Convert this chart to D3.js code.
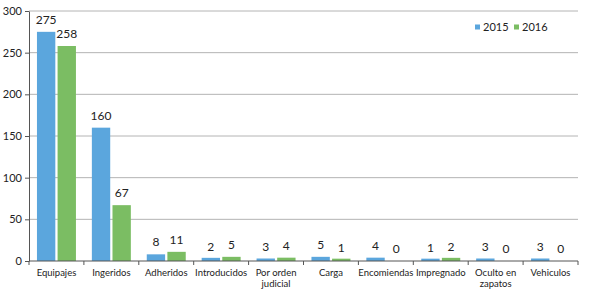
<!DOCTYPE html>
<html><head><meta charset="utf-8">
<script src="https://cdn.jsdelivr.net/npm/d3@7"></script>
<style>body{margin:0;background:#fff}svg{display:block}</style>
</head><body>
<script>
const categories = ["Equipajes","Ingeridos","Adheridos","Introducidos","Por orden|judicial","Carga","Encomiendas","Impregnado","Oculto en|zapatos","Vehiculos"];
const series = ["2015","2016"];
const values2015 = [275,160,8,2,3,5,4,1,3,3];
const values2016 = [258,67,11,5,4,1,0,2,0,0];
const yTicks = [0,50,100,150,200,250,300];
const colors = ["#5ba6dd","#7bbd63"];

const W=589,H=293;
const m={l:29,r:11,t:11,b:32};
const svg=d3.select("body").append("svg").attr("width",W).attr("height",H);
const font="Lato, 'Open Sans', sans-serif";
const x=d3.scaleBand().domain(categories).range([m.l,W-m.r]).paddingInner(0.29).paddingOuter(0.145);
const x1=d3.scaleBand().domain(series).range([0,x.bandwidth()]).paddingInner(0.11);
const y=d3.scaleLinear().domain([0,300]).range([H-m.b,m.t]);

// gridlines
svg.append("g").selectAll("line").data(yTicks.filter(d=>d>0)).join("line")
 .attr("x1",m.l).attr("x2",W-m.r).attr("y1",d=>y(d)).attr("y2",d=>y(d))
 .attr("stroke","#b4b4b4").attr("stroke-width",1);

// y axis
const ya=svg.append("g").attr("transform",`translate(${m.l},0)`)
 .call(d3.axisLeft(y).tickValues(yTicks).tickSize(4).tickSizeOuter(0));
ya.select(".domain").attr("stroke","#555");
ya.selectAll(".tick line").attr("stroke","#555");
ya.selectAll("text").attr("font-family",font).attr("font-size",11).attr("fill","#222").attr("x",-7);

// bars
const data=categories.map((c,i)=>({c,v:[values2015[i],values2016[i]]}));
const g=svg.append("g").selectAll("g").data(data).join("g").attr("transform",d=>`translate(${x(d.c)},0)`);
g.selectAll("rect").data(d=>d.v.map((v,j)=>({s:series[j],v,j}))).join("rect")
 .attr("x",d=>x1(d.s)).attr("width",x1.bandwidth())
 .attr("y",d=>y(d.v)-(d.v<3?1.5:0)).attr("height",d=>y(0)-y(d.v)+(d.v<3?1.5:0))
 .attr("fill",d=>colors[d.j]).attr("display",d=>d.v===0?"none":null);
g.selectAll("text").data(d=>d.v.map((v,j)=>({s:series[j],v,j}))).join("text")
 .attr("x",d=>x1(d.s)+x1.bandwidth()/2).attr("y",d=>y(d.v)-8)
 .attr("text-anchor","middle").attr("font-family",font).attr("font-size",12).attr("fill","#222")
 .text(d=>d.v);

// x axis
const step=(W-m.l-m.r)/categories.length;
const xa=svg.append("g");
xa.append("line").attr("x1",m.l).attr("x2",W-m.r).attr("y1",y(0)).attr("y2",y(0)).attr("stroke","#555");
xa.selectAll("line.t").data(d3.range(categories.length+1)).join("line").attr("class","t")
 .attr("x1",i=>m.l+i*step).attr("x2",i=>m.l+i*step).attr("y1",y(0)).attr("y2",y(0)+4).attr("stroke","#555");
const lab=xa.selectAll("text").data(categories).join("text")
 .attr("x",d=>x(d)+x.bandwidth()/2).attr("y",y(0)+15)
 .attr("text-anchor","middle").attr("font-family",font).attr("font-size",9.5).attr("fill","#222");
lab.each(function(d){
  const parts=d.split("|");
  parts.forEach((p,i)=>d3.select(this).append("tspan").attr("x",x(d)+x.bandwidth()/2).attr("dy",i?11:0).text(p));
});

// legend
const lg=svg.append("g").attr("transform","translate(475,27)");
series.forEach((s,i)=>{
  lg.append("rect").attr("x",i*39).attr("y",-2.5).attr("width",5).attr("height",5).attr("fill",colors[i]);
  lg.append("text").attr("x",i*39+8).attr("y",4).attr("font-family",font).attr("font-size",11).attr("fill","#222").text(s);
});
</script>
</body></html>
